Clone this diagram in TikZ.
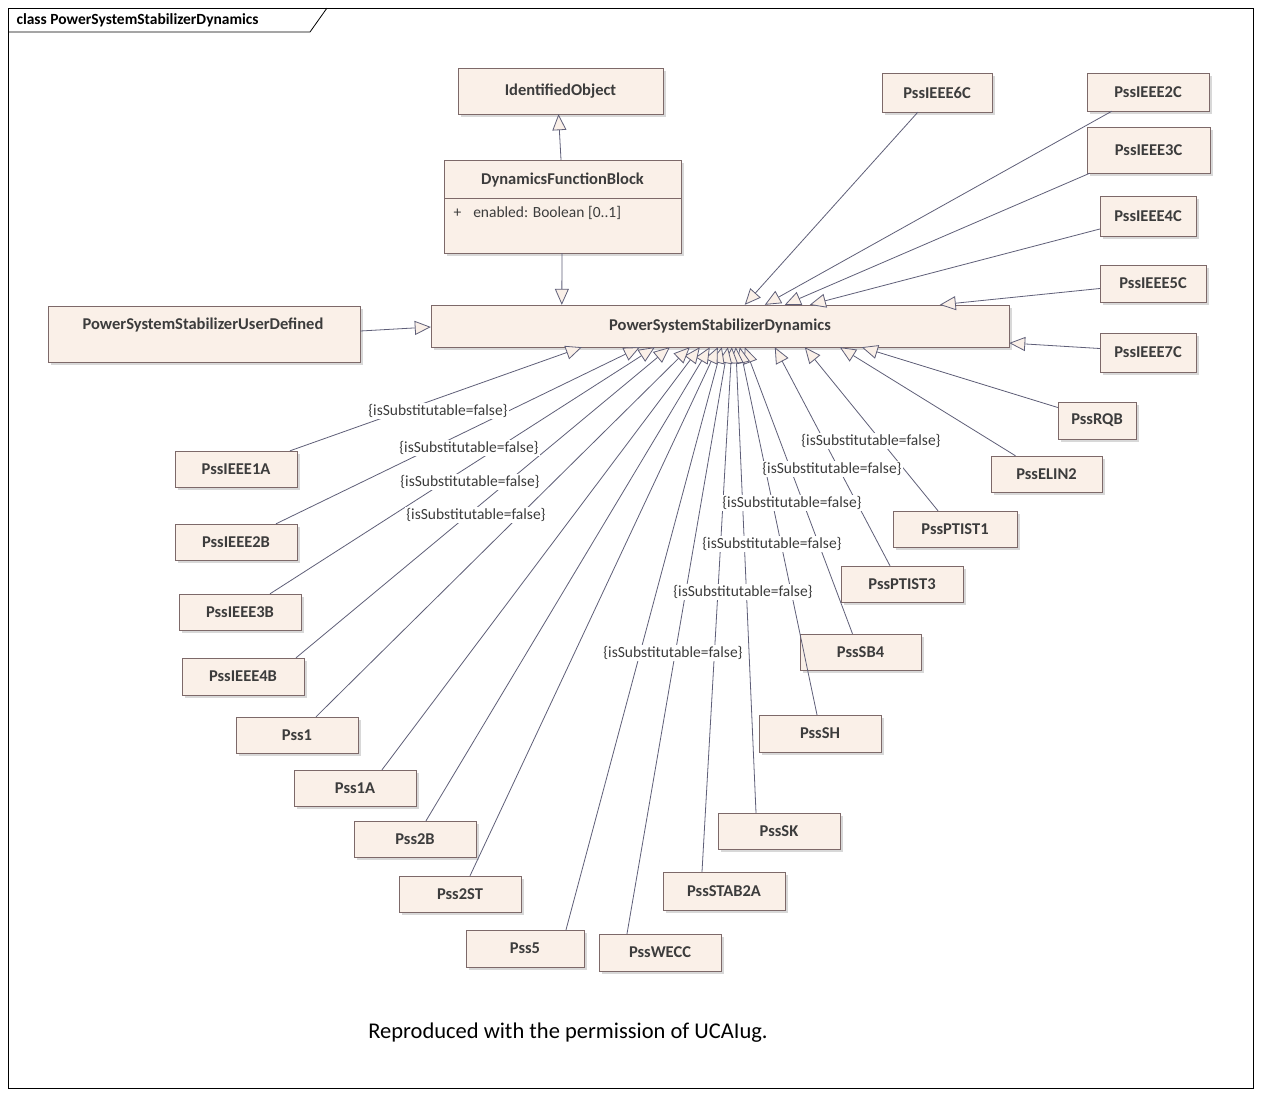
\documentclass[tikz,border=0pt]{standalone}
\usepackage{fontspec}
\setmainfont{Carlito}
\usetikzlibrary{arrows.meta,shadows}
\definecolor{boxfill}{RGB}{250,240,232}
\definecolor{boxline}{RGB}{125,105,105}
\definecolor{lnk}{RGB}{95,95,120}
\definecolor{txt}{RGB}{60,60,60}
\begin{document}
\begin{tikzpicture}[x=1pt,y=-1pt,
  box/.style={draw=boxline,fill=boxfill,inner sep=0pt,text=txt,font=\fontsize{16.5}{18}\selectfont\bfseries,
    drop shadow={shadow xshift=3pt,shadow yshift=-3pt,fill=black!25,opacity=0.6}},
  gen/.style={draw=lnk,line width=0.8pt,-{Triangle[open,length=16pt,width=14pt,fill=boxfill]}},
  lab/.style={fill=white,inner sep=1pt,text=txt,font=\fontsize{15.5}{17}\selectfont}]
\newcommand{\cls}[6]{\node[box,minimum width={(#4-#2)*1pt},minimum height={(#5-#3)*1pt}] (#1) at ({(#2+#4)/2},{(#3+#5)/2}) {#6};}
\useasboundingbox (0,0) rectangle (1261,1096);
\fill[white] (0,0) rectangle (1261,1096);
\draw[black,line width=0.8pt] (8,8) rectangle (1253,1088);
\draw[black,line width=0.8pt] (8,32) -- (310,32) -- (327,8);
\node[anchor=west,font=\fontsize{15.5}{17}\selectfont\bfseries] (title) at (13,20) {class PowerSystemStabilizerDynamics};
\node[font=\fontsize{22.5}{24}\selectfont] (cap) at (568,1033) {Reproduced with the permission of UCAIug.};
% classes
\cls{IO}{458}{68}{663}{114}{IdentifiedObject}
\node[box,minimum width=237pt,minimum height=93pt] (DFB) at (562.5,206.5) {};
\node[font=\fontsize{16.5}{18}\selectfont\bfseries,text=txt] (DFBt) at (562.5,180) {DynamicsFunctionBlock};
\draw[boxline] (444,198) -- (681,198);
\node[anchor=west,text=txt,font=\fontsize{15.5}{17}\selectfont] (DFBa) at (450,213) {+\hspace{12pt}enabled: Boolean [0..1]};
\cls{P}{431}{305}{1009}{347}{PowerSystemStabilizerDynamics}
\node[box,minimum width=312pt,minimum height=56pt] (UD) at (204,334) {};
\node[font=\fontsize{16.5}{18}\selectfont\bfseries,text=txt] (UDt) at (203,325) {PowerSystemStabilizerUserDefined};
\cls{C6}{882}{73}{992}{112}{PssIEEE6C}
\cls{C2}{1087}{73}{1209}{111}{PssIEEE2C}
\cls{C3}{1087}{127}{1210}{173}{PssIEEE3C}
\cls{C4}{1100}{196}{1196}{236}{PssIEEE4C}
\cls{C5}{1100}{265}{1206}{302}{PssIEEE5C}
\cls{C7}{1100}{333}{1196}{372}{PssIEEE7C}
\cls{RQB}{1058}{402}{1136}{439}{PssRQB}
\cls{EL}{991}{456}{1102}{492}{PssELIN2}
\cls{PT1}{893}{511}{1017}{547}{PssPTIST1}
\cls{PT3}{841}{566}{963}{602}{PssPTIST3}
\cls{SB4}{800}{634}{921}{670}{PssSB4}
\cls{SH}{759}{715}{881}{752}{PssSH}
\cls{SK}{718}{813}{840}{849}{PssSK}
\cls{ST}{663}{872}{785}{910}{PssSTAB2A}
\cls{WE}{599}{934}{721}{971}{PssWECC}
\cls{P5}{466}{930}{584}{967}{Pss5}
\cls{P2ST}{399}{876}{521}{912}{Pss2ST}
\cls{P2B}{354}{821}{476}{857}{Pss2B}
\cls{P1A}{294}{770}{416}{806}{Pss1A}
\cls{P1}{236}{717}{358}{753}{Pss1}
\cls{B4}{182}{658}{304}{695}{PssIEEE4B}
\cls{B3}{179}{594}{301}{630}{PssIEEE3B}
\cls{B2}{175}{524}{297}{560}{PssIEEE2B}
\cls{A1}{175}{451}{297}{487}{PssIEEE1A}
% generalizations
\draw[gen] ([xshift=-1.5pt]DFB.north) -- ([xshift=-2pt]IO.south);
\draw[gen] ([xshift=-0.5pt]DFB.south) -- ([xshift=131pt]P.north west);
\draw[gen] ([yshift=3pt]UD.east) -- ([yshift=-1pt]P.west);
\draw[gen] ([xshift=36pt]C6.south west) -- ([xshift=314pt]P.north west);
\draw[gen] ([xshift=25pt]C2.south west) -- ([xshift=334pt]P.north west);
\draw[gen] ([xshift=3pt]C3.south west) -- ([xshift=354pt]P.north west);
\draw[gen] ([yshift=-13pt]C4.west) -- ([xshift=379pt]P.north west);
\draw[gen] ([yshift=-5pt]C5.west) -- ([xshift=509pt]P.north west);
\draw[gen] ([yshift=4pt]C7.west) -- ([yshift=-17pt]P.east);
\draw[gen] ([yshift=13pt]RQB.west) -- ([xshift=431pt]P.south west);
\draw[gen] ([xshift=-31pt]EL.north) -- ([xshift=409pt]P.south west);
\draw[gen] ([xshift=-17pt]PT1.north) -- ([xshift=374pt]P.south west);
\draw[gen] ([xshift=-12pt]PT3.north) -- ([xshift=344pt]P.south west);
\draw[gen] ([xshift=-8pt]SB4.north) -- ([xshift=314pt]P.south west);
\draw[gen] ([xshift=-3pt]SH.north) -- ([xshift=309pt]P.south west);
\draw[gen] ([xshift=-23pt]SK.north) -- ([xshift=305pt]P.south west);
\draw[gen] ([xshift=-22pt]ST.north) -- ([xshift=301pt]P.south west);
\draw[gen] ([xshift=-33pt]WE.north) -- ([xshift=297pt]P.south west);
\draw[gen] ([xshift=41pt]P5.north) -- ([xshift=291pt]P.south west);
\draw[gen] ([xshift=10pt]P2ST.north) -- ([xshift=287pt]P.south west);
\draw[gen] ([xshift=11pt]P2B.north) -- ([xshift=279pt]P.south west);
\draw[gen] ([xshift=27pt]P1A.north) -- ([xshift=269pt]P.south west);
\draw[gen] ([xshift=19pt]P1.north) -- ([xshift=259pt]P.south west);
\draw[gen] ([xshift=53pt]B4.north) -- ([xshift=239pt]P.south west);
\draw[gen] ([xshift=30pt]B3.north) -- ([xshift=224pt]P.south west);
\draw[gen] ([xshift=40pt]B2.north) -- ([xshift=209pt]P.south west);
\draw[gen] ([xshift=54pt]A1.north) -- ([xshift=151pt]P.south west);
% labels
\node[lab] (l1) at (438,411) {\{isSubstitutable=false\}};
\node[lab] (l2) at (469,448) {\{isSubstitutable=false\}};
\node[lab] (l3) at (470,482) {\{isSubstitutable=false\}};
\node[lab] (l4) at (476,515) {\{isSubstitutable=false\}};
\node[lab] (l5) at (871,441) {\{isSubstitutable=false\}};
\node[lab] (l6) at (832,469) {\{isSubstitutable=false\}};
\node[lab] (l7) at (792,503) {\{isSubstitutable=false\}};
\node[lab] (l8) at (772,544) {\{isSubstitutable=false\}};
\node[lab] (l9) at (743,592) {\{isSubstitutable=false\}};
\node[lab] (l10) at (673,653) {\{isSubstitutable=false\}};
\end{tikzpicture}
\end{document}
